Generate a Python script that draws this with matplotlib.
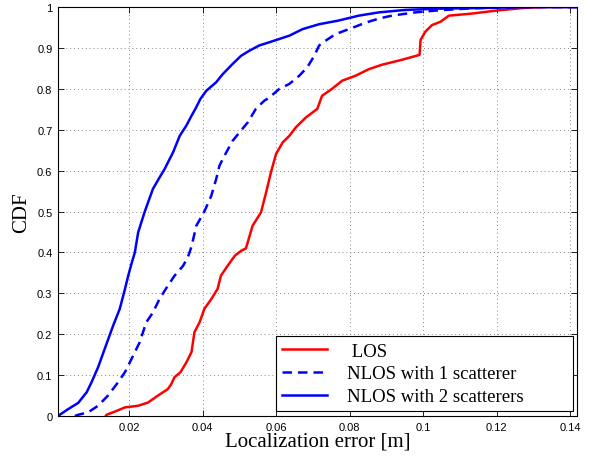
import matplotlib
matplotlib.use("Agg")
import matplotlib.pyplot as plt
import numpy as np

# ------------------ DADOS ------------------
# LOS
los_err = [0.0137, 0.0139, 0.0161, 0.0189, 0.0225, 0.0252, 0.0279, 0.0306, 0.0315,
           0.0324, 0.0340, 0.0356, 0.0370, 0.0378, 0.0392, 0.0405, 0.0424, 0.0441,
           0.0450, 0.0468, 0.0488, 0.0505, 0.0518, 0.0523, 0.0536, 0.0559, 0.0573,
           0.0586, 0.0600, 0.0618, 0.0636, 0.0654, 0.0681, 0.0712, 0.0725, 0.0752,
           0.0780, 0.0816, 0.0852, 0.0888, 0.0942, 0.0990, 0.0993, 0.1006, 0.1024,
           0.1047, 0.1070, 0.1132, 0.1205, 0.1277, 0.1330, 0.1420]
los_cdf = [0.0, 0.003, 0.0105, 0.021, 0.025, 0.033, 0.05, 0.066, 0.078,
           0.095, 0.107, 0.131, 0.156, 0.205, 0.229, 0.262, 0.286, 0.311,
           0.343, 0.367, 0.392, 0.404, 0.41, 0.425, 0.465, 0.498, 0.547,
           0.596, 0.641, 0.669, 0.685, 0.706, 0.730, 0.751, 0.783, 0.800,
           0.820, 0.832, 0.848, 0.859, 0.871, 0.883, 0.920, 0.940, 0.956,
           0.964, 0.979, 0.984, 0.992, 0.998, 1.0, 1.0]

# NLOS com 1 espalhador
nlos1_err = [0.0053, 0.0062, 0.0089, 0.0116, 0.0143, 0.0170, 0.0189, 0.0211, 0.0229,
             0.0247, 0.0265, 0.0283, 0.0306, 0.0324, 0.0347, 0.0360, 0.0370, 0.0383,
             0.0405, 0.0424, 0.0437, 0.0446, 0.0460, 0.0482, 0.0500, 0.0523, 0.0545,
             0.0568, 0.0582, 0.0609, 0.0636, 0.0663, 0.0685, 0.0704, 0.0717, 0.0735,
             0.0762, 0.0798, 0.0844, 0.0880, 0.0915, 0.0979, 0.1042, 0.1132, 0.1277,
             0.1420]
nlos1_cdf = [0.0, 0.003, 0.009, 0.025, 0.05, 0.082, 0.107, 0.147, 0.18,
             0.229, 0.253, 0.286, 0.319, 0.343, 0.367, 0.388, 0.414, 0.465,
             0.5, 0.539, 0.579, 0.612, 0.637, 0.673, 0.693, 0.718, 0.751,
             0.771, 0.779, 0.800, 0.812, 0.832, 0.853, 0.881, 0.906, 0.918,
             0.934, 0.946, 0.962, 0.972, 0.979, 0.987, 0.992, 0.997, 1.0,
             1.0]

# NLOS com 2 espalhadores
nlos2_err = [0.0007, 0.0035, 0.0062, 0.0085, 0.0098, 0.0116, 0.0134, 0.0157, 0.0175,
             0.0189, 0.0198, 0.0208, 0.0216, 0.0225, 0.0243, 0.0265, 0.0283, 0.0297,
             0.0320, 0.0338, 0.0356, 0.0370, 0.0383, 0.0394, 0.0410, 0.0437, 0.0455,
             0.0482, 0.0505, 0.0527, 0.0554, 0.0582, 0.0609, 0.0636, 0.0672, 0.0717,
             0.0770, 0.0825, 0.0880, 0.0952, 0.1042, 0.1180, 0.1277, 0.1420]
nlos2_cdf = [0.0, 0.017, 0.032, 0.058, 0.082, 0.119, 0.164, 0.221, 0.262,
             0.31, 0.343, 0.376, 0.40, 0.449, 0.5, 0.555, 0.583, 0.604,
             0.645, 0.685, 0.71, 0.734, 0.755, 0.775, 0.795, 0.816, 0.836,
             0.861, 0.881, 0.893, 0.906, 0.914, 0.922, 0.930, 0.946, 0.958,
             0.967, 0.979, 0.987, 0.993, 0.996, 0.998, 1.0, 1.0]

x_ticks = [0.02, 0.04, 0.06, 0.08, 0.1, 0.12, 0.14]
x_labels = ['0.02', '0.04', '0.06', '0.08', '0.1', '0.12', '0.14']
y_ticks = np.round(np.arange(0, 1.01, 0.1), 1)
y_labels = ['0', '0.1', '0.2', '0.3', '0.4', '0.5', '0.6', '0.7', '0.8', '0.9', '1']

# ------------------ GRÁFICO ------------------
fig = plt.figure(figsize=(5.94, 4.6), dpi=100)
ax = fig.add_axes([0.0976, 0.0935, 0.8737, 0.889])

ax.plot(los_err, los_cdf, color='red', lw=1.8, label=' LOS')
ax.plot(nlos1_err, nlos1_cdf, color='blue', lw=1.8, ls=(0, (3.8, 2.4)),
        label='NLOS with 1 scatterer')
ax.plot(nlos2_err, nlos2_cdf, color='blue', lw=1.8, label='NLOS with 2 scatterers')

ax.set_xlim(0.0007, 0.1418)
ax.set_ylim(0, 1)
ax.set_xticks(x_ticks)
ax.set_xticklabels(x_labels)
ax.set_yticks(y_ticks)
ax.set_yticklabels(y_labels)

for lab in ax.get_xticklabels() + ax.get_yticklabels():
    lab.set_family('Liberation Sans')
    lab.set_fontsize(8)
ax.tick_params(direction='in', length=4, width=0.6, top=True, right=True, pad=4)

ax.grid(True, color='#888888', linestyle=(0, (1, 3)), linewidth=0.7)
for s in ax.spines.values():
    s.set_linewidth(0.8)

ax.set_xlabel('Localization error [m]', family='Liberation Serif', fontsize=15, labelpad=0)
ax.set_ylabel('CDF', family='Liberation Serif', fontsize=15, labelpad=4)

# legenda com caixa esticada como no original
leg = ax.legend(loc='lower left', bbox_to_anchor=(0.42, 0.012, 0.572, 0.184), mode='expand',
                prop={'family': 'Liberation Serif', 'size': 13.5},
                fancybox=False, framealpha=1, edgecolor='black', handlelength=2.4,
                borderaxespad=0, borderpad=0.32, labelspacing=0.3, handletextpad=1.05)
leg.get_frame().set_linewidth(0.8)

fig.savefig('out.png', dpi=100)
